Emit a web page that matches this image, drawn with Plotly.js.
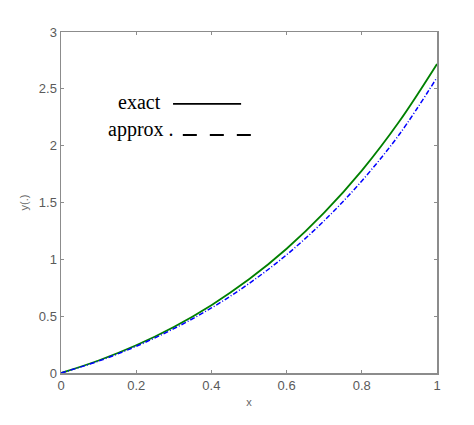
<!DOCTYPE html>
<html>
<head>
<meta charset="utf-8">
<script src="https://cdn.plot.ly/plotly-3.0.1.min.js"></script>
<style>html,body{margin:0;padding:0;background:#fff;}#chart{width:474px;height:425px;}</style>
</head>
<body>
<div id="chart"></div>
<script>
const xValues = [0, 0.1, 0.2, 0.3, 0.4, 0.5, 0.6, 0.7, 0.8, 0.9, 1.0];
const exactValues = [0, 0.11, 0.244, 0.405, 0.597, 0.824, 1.093, 1.41, 1.78, 2.214, 2.718];
const approxValues = [0, 0.105, 0.235, 0.39, 0.572, 0.787, 1.04, 1.34, 1.69, 2.10, 2.60];
const xTicks = [0, 0.2, 0.4, 0.6, 0.8, 1];
const xTickLabels = ["0", "0.2", "0.4", "0.6", "0.8", "1"];
const yTicks = [0, 0.5, 1, 1.5, 2, 2.5, 3];
const yTickLabels = ["0", "0.5", "1", "1.5", "2", "2.5", "3"];
const legendLabels = ["exact", "approx ."];

const traces = [
  {x: xValues, y: exactValues, mode: 'lines', line: {color: '#008000', width: 1.8, shape: 'spline'}, showlegend: false, hoverinfo: 'skip'},
  {x: xValues, y: approxValues, mode: 'lines', line: {color: '#0000ff', width: 1.5, dash: '5px,2px,1px,2px', shape: 'spline'}, showlegend: false, hoverinfo: 'skip'}
];

const axisCommon = {
  showgrid: false, zeroline: false, showline: true, linecolor: '#8c8c8c', linewidth: 1.5,
  mirror: 'ticks', ticks: 'inside', ticklen: 3, tickcolor: '#8c8c8c',
  tickfont: {family: 'Arial, Liberation Sans, sans-serif', size: 13, color: '#5a5a5a'}
};

const layout = {
  width: 474, height: 425,
  margin: {l: 61, r: 37, t: 32, b: 52},
  paper_bgcolor: '#fff', plot_bgcolor: '#fff',
  xaxis: Object.assign({}, axisCommon, {range: [0, 1], tickvals: xTicks, ticktext: xTickLabels,
    title: {text: 'x', font: {family: 'Arial, Liberation Sans, sans-serif', size: 11, color: '#666'}, standoff: 6}}),
  yaxis: Object.assign({}, axisCommon, {range: [0, 3], tickvals: yTicks, ticktext: yTickLabels,
    title: {text: 'y(.)', font: {family: 'Arial, Liberation Sans, sans-serif', size: 11, color: '#666'}, standoff: 8}}),
  annotations: [
    {xref: 'paper', yref: 'paper', x: 0.272, y: 0.795, xanchor: 'right', yanchor: 'middle', text: legendLabels[0], showarrow: false,
      font: {family: 'Liberation Serif, Times New Roman, serif', size: 20, color: '#000'}},
    {xref: 'paper', yref: 'paper', x: 0.306, y: 0.713, xanchor: 'right', yanchor: 'middle', text: legendLabels[1], showarrow: false,
      font: {family: 'Liberation Serif, Times New Roman, serif', size: 20, color: '#000'}}
  ],
  shapes: [
    {type: 'line', xref: 'paper', yref: 'paper', x0: 0.298, x1: 0.479, y0: 0.789, y1: 0.789, line: {color: '#000', width: 1.8}},
    {type: 'line', xref: 'paper', yref: 'paper', x0: 0.324, x1: 0.516, y0: 0.698, y1: 0.698, line: {color: '#000', width: 1.8, dash: '14px,13px'}}
  ]
};

Plotly.newPlot('chart', traces, layout, {staticPlot: true, displayModeBar: false});
</script>
</body>
</html>
